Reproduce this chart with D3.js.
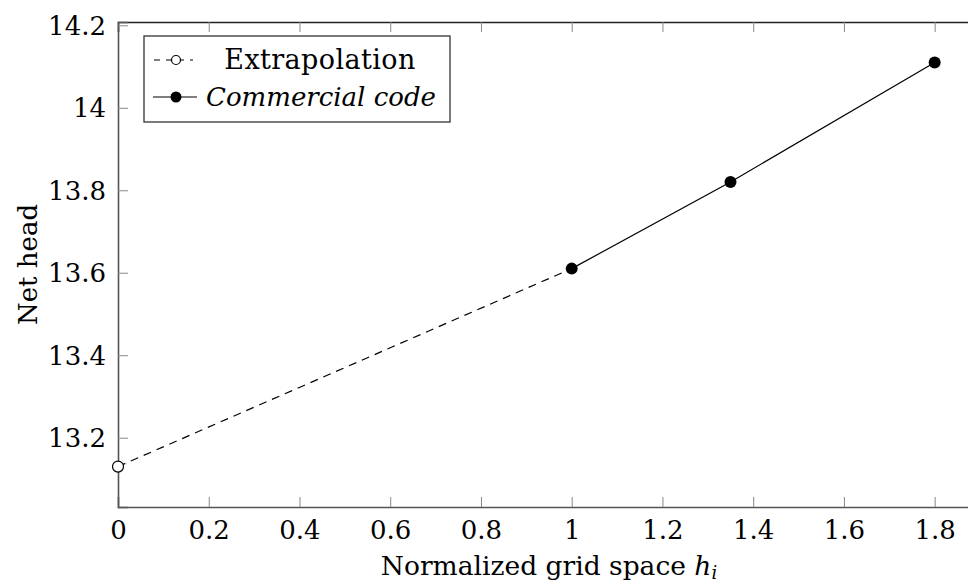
<!DOCTYPE html>
<html>
<head>
<meta charset="utf-8">
<script src="https://cdn.jsdelivr.net/npm/d3@7"></script>
<style>
  body { margin: 0; background: #fff; }
</style>
</head>
<body>
<svg id="chart" width="968" height="584"></svg>
<script>
// data
var extrapX = [0, 1];
var extrapY = [13.13, 13.61];
var codeX = [1, 1.35, 1.8];
var codeY = [13.61, 13.82, 14.11];
var xTicks = [0, 0.2, 0.4, 0.6, 0.8, 1, 1.2, 1.4, 1.6, 1.8];
var yTicks = [13.2, 13.4, 13.6, 13.8, 14, 14.2];

var serif = "'DejaVu Serif', 'Liberation Serif', serif";

var svg = d3.select("#chart");
var plotLeft = 118, plotTop = 22, plotBottom = 507;

// x axis runs past the right edge of the picture
var x = d3.scaleLinear().domain([0, 1.9]).range([plotLeft, plotLeft + 1.9 * 453.7]);
var y = d3.scaleLinear().domain([13.032, 14.208]).range([plotBottom, plotTop]);

var extrap = extrapX.map(function(d, i) { return {x: d, y: extrapY[i]}; });
var code = codeX.map(function(d, i) { return {x: d, y: codeY[i]}; });

var fmt = function(d) { return String(d); };

// ticks pointing inwards, mirrored on top
var xAxis = d3.axisBottom(x).tickValues(xTicks).tickSize(-10).tickPadding(12).tickFormat(fmt);
var xTop = d3.axisTop(x).tickValues(xTicks).tickSize(-10).tickFormat("");
var yAxis = d3.axisLeft(y).tickValues(yTicks).tickSize(-10).tickPadding(12).tickFormat(fmt);

function styleAxis(g) {
  g.attr("font-family", null).attr("font-size", null);
  g.select(".domain").attr("stroke", "#555").attr("stroke-width", 1.6);
  g.selectAll(".tick line").attr("stroke", "#888").attr("stroke-width", 1);
  g.selectAll(".tick text")
    .style("font-family", serif)
    .style("font-size", "26px")
    .attr("fill", "#000");
}

svg.append("g")
  .attr("transform", "translate(0," + plotBottom + ")")
  .call(xAxis)
  .call(styleAxis)
  .selectAll(".tick text").attr("dy", "0.75em");

svg.append("g")
  .attr("transform", "translate(0," + plotTop + ")")
  .call(xTop)
  .call(styleAxis)
  .select(".domain").attr("stroke", "#222");

svg.append("g")
  .attr("transform", "translate(" + plotLeft + ",0)")
  .call(yAxis)
  .call(styleAxis)
  .selectAll(".tick text").attr("dy", "0.35em");

// lines
var line = d3.line().x(function(d) { return x(d.x); }).y(function(d) { return y(d.y); });

svg.append("path")
  .datum(extrap)
  .attr("d", line)
  .attr("fill", "none")
  .attr("stroke", "#000")
  .attr("stroke-width", 1.2)
  .attr("stroke-dasharray", "8,6");

svg.append("path")
  .datum(code)
  .attr("d", line)
  .attr("fill", "none")
  .attr("stroke", "#000")
  .attr("stroke-width", 1.2);

svg.selectAll(".open")
  .data(extrap.slice(0, 1))
  .enter()
  .append("circle")
  .attr("cx", function(d) { return x(d.x); })
  .attr("cy", function(d) { return y(d.y); })
  .attr("r", 5.5)
  .attr("fill", "#fff")
  .attr("stroke", "#000")
  .attr("stroke-width", 1.2);

svg.selectAll(".dot")
  .data(code)
  .enter()
  .append("circle")
  .attr("cx", function(d) { return x(d.x); })
  .attr("cy", function(d) { return y(d.y); })
  .attr("r", 6)
  .attr("fill", "#000");

// axis titles
svg.append("text")
  .attr("transform", "translate(37," + ((plotTop + plotBottom) / 2) + ") rotate(-90)")
  .attr("text-anchor", "middle")
  .style("font-family", serif)
  .style("font-size", "26px")
  .text("Net head");

var xt = svg.append("text")
  .attr("x", 549)
  .attr("y", 575)
  .attr("text-anchor", "middle")
  .style("font-family", serif)
  .style("font-size", "26.5px");
xt.append("tspan").text("Normalized grid space ");
xt.append("tspan").attr("font-style", "italic").text("h");
xt.append("tspan").attr("font-style", "italic").attr("dy", 4).style("font-size", "18px").text("i");

// legend
var lg = svg.append("g");
lg.append("rect")
  .attr("x", 144).attr("y", 36)
  .attr("width", 306).attr("height", 86)
  .attr("fill", "#fff")
  .attr("stroke", "#333")
  .attr("stroke-width", 1.3);

lg.append("line")
  .attr("x1", 153).attr("x2", 193).attr("y1", 60).attr("y2", 60)
  .attr("stroke", "#000").attr("stroke-width", 1.2)
  .attr("stroke-dasharray", "6,6").attr("stroke-dashoffset", -1);
lg.append("circle")
  .attr("cx", 176).attr("cy", 60).attr("r", 4.5)
  .attr("fill", "#fff").attr("stroke", "#000").attr("stroke-width", 1.2);
lg.append("text")
  .attr("x", 320).attr("y", 60).attr("dy", "0.35em")
  .attr("text-anchor", "middle")
  .style("font-family", serif)
  .style("font-size", "27px")
  .style("letter-spacing", "0.4px")
  .text("Extrapolation");

lg.append("line")
  .attr("x1", 153).attr("x2", 197).attr("y1", 97).attr("y2", 97)
  .attr("stroke", "#000").attr("stroke-width", 1.2);
lg.append("circle")
  .attr("cx", 176).attr("cy", 97).attr("r", 5.5)
  .attr("fill", "#000");
lg.append("text")
  .attr("x", 321).attr("y", 97).attr("dy", "0.35em")
  .attr("text-anchor", "middle")
  .attr("font-style", "italic")
  .style("font-family", serif)
  .style("font-size", "26px")
  .text("Commercial code");
</script>
</body>
</html>
